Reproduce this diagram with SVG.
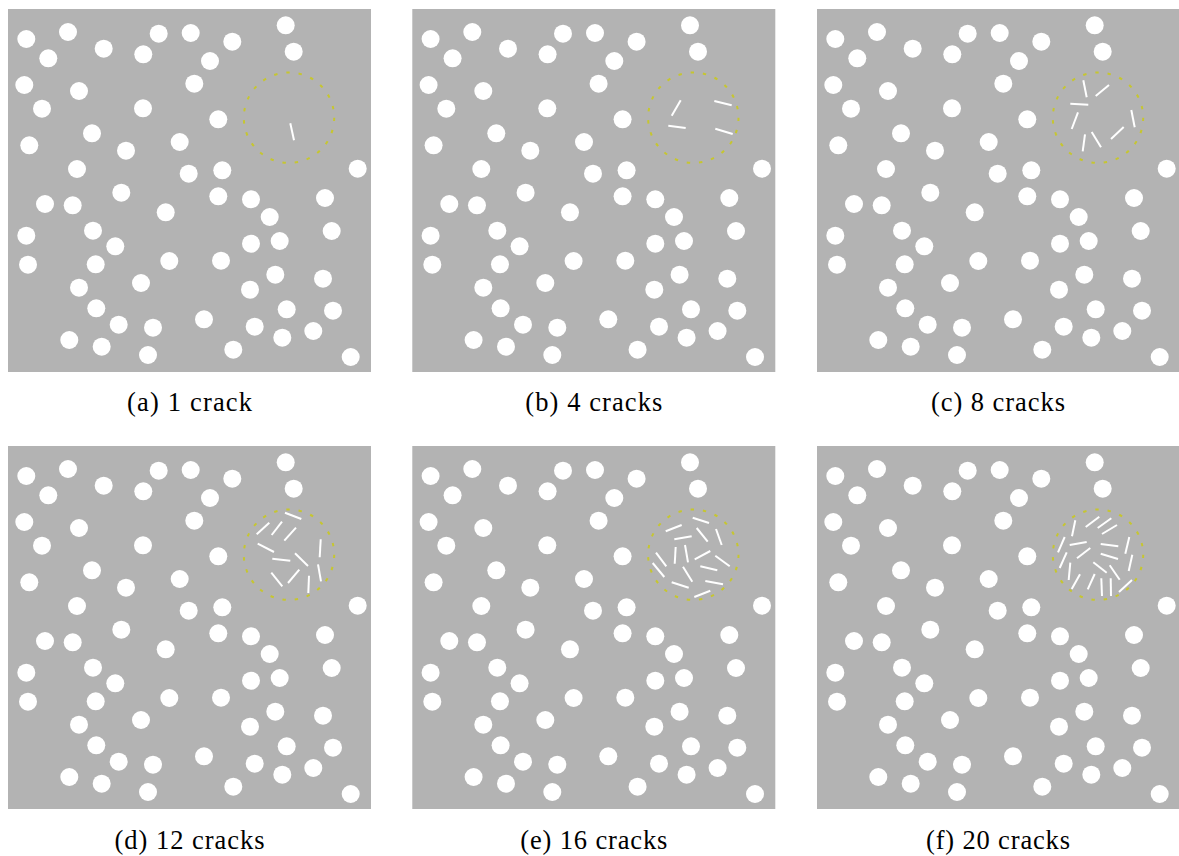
<svg xmlns="http://www.w3.org/2000/svg" xmlns:xlink="http://www.w3.org/1999/xlink" width="1179" height="856" viewBox="0 0 1179 856">
<style>
.bg{fill:#b3b3b3}
.p{fill:#ffffff}
.ring{fill:none;stroke:#c6c630;stroke-width:2;stroke-dasharray:3.4 8.95}
.crack{stroke:#ffffff;stroke-width:2;fill:none}
.cap{font-family:"Liberation Serif","DejaVu Serif",serif;font-size:26.5px;fill:#000;text-anchor:middle}
</style>
<defs>
<g id="particles">
<circle class="p" cx="26.3" cy="39" r="9"/>
<circle class="p" cx="68" cy="32" r="9"/>
<circle class="p" cx="48.3" cy="58.3" r="9"/>
<circle class="p" cx="103.7" cy="48.7" r="9"/>
<circle class="p" cx="158.7" cy="33.7" r="9"/>
<circle class="p" cx="190.7" cy="33" r="9"/>
<circle class="p" cx="143.3" cy="54.3" r="9"/>
<circle class="p" cx="232.3" cy="41.7" r="9"/>
<circle class="p" cx="285.7" cy="25.3" r="9"/>
<circle class="p" cx="293.7" cy="51.7" r="9"/>
<circle class="p" cx="210" cy="61" r="9"/>
<circle class="p" cx="24.3" cy="85" r="9"/>
<circle class="p" cx="79" cy="91" r="9"/>
<circle class="p" cx="194.3" cy="83.7" r="9"/>
<circle class="p" cx="42" cy="108.7" r="9"/>
<circle class="p" cx="143" cy="108.3" r="9"/>
<circle class="p" cx="218.3" cy="119.3" r="9"/>
<circle class="p" cx="92" cy="133.3" r="9"/>
<circle class="p" cx="29.3" cy="145.3" r="9"/>
<circle class="p" cx="179.7" cy="142" r="9"/>
<circle class="p" cx="126" cy="150.7" r="9"/>
<circle class="p" cx="77" cy="169" r="9"/>
<circle class="p" cx="188.7" cy="173.7" r="9"/>
<circle class="p" cx="222.3" cy="170.3" r="9"/>
<circle class="p" cx="357.7" cy="168.7" r="9"/>
<circle class="p" cx="121.3" cy="192.7" r="9"/>
<circle class="p" cx="45" cy="204" r="9"/>
<circle class="p" cx="72.7" cy="205.3" r="9"/>
<circle class="p" cx="218.3" cy="196.3" r="9"/>
<circle class="p" cx="251" cy="199.3" r="9"/>
<circle class="p" cx="325" cy="198" r="9"/>
<circle class="p" cx="165.7" cy="212.3" r="9"/>
<circle class="p" cx="269.7" cy="217" r="9"/>
<circle class="p" cx="26.3" cy="235.7" r="9"/>
<circle class="p" cx="93" cy="230.7" r="9"/>
<circle class="p" cx="115.3" cy="246.3" r="9"/>
<circle class="p" cx="251" cy="243.7" r="9"/>
<circle class="p" cx="279.7" cy="241" r="9"/>
<circle class="p" cx="331.7" cy="231" r="9"/>
<circle class="p" cx="28" cy="264.7" r="9"/>
<circle class="p" cx="95.7" cy="264.3" r="9"/>
<circle class="p" cx="169.3" cy="261" r="9"/>
<circle class="p" cx="221" cy="260.7" r="9"/>
<circle class="p" cx="275.3" cy="274.7" r="9"/>
<circle class="p" cx="141" cy="283" r="9"/>
<circle class="p" cx="323" cy="278.7" r="9"/>
<circle class="p" cx="79" cy="287.7" r="9"/>
<circle class="p" cx="250" cy="289.7" r="9"/>
<circle class="p" cx="96.3" cy="308.3" r="9"/>
<circle class="p" cx="286.7" cy="309.3" r="9"/>
<circle class="p" cx="333" cy="310.7" r="9"/>
<circle class="p" cx="118.7" cy="324.7" r="9"/>
<circle class="p" cx="153" cy="327.7" r="9"/>
<circle class="p" cx="204" cy="319.3" r="9"/>
<circle class="p" cx="254.7" cy="326.7" r="9"/>
<circle class="p" cx="313.3" cy="331" r="9"/>
<circle class="p" cx="282.3" cy="337.7" r="9"/>
<circle class="p" cx="69.3" cy="340" r="9"/>
<circle class="p" cx="101.7" cy="346.7" r="9"/>
<circle class="p" cx="233.3" cy="349.7" r="9"/>
<circle class="p" cx="148" cy="355" r="9"/>
<circle class="p" cx="350.7" cy="357" r="9"/>
</g>
<g id="panel">
<rect class="bg" x="8" y="9" width="363" height="363"/>
<use xlink:href="#particles" href="#particles"/>
<circle class="ring" cx="289" cy="117.7" r="45.2"/>
</g>
</defs>

<g id="panel-a">
<use xlink:href="#panel" href="#panel"/>
<line class="crack" x1="290.3" y1="123.3" x2="294" y2="140.3"/>
<text class="cap" x="189.5" y="410.5" textLength="125" lengthAdjust="spacing">(a) 1 crack</text>
</g>

<g id="panel-b">
<use xlink:href="#panel" href="#panel" transform="translate(404.3,0)"/>
<line class="crack" x1="671.7" y1="115.7" x2="680.7" y2="100.3"/>
<line class="crack" x1="668.3" y1="125.7" x2="685.7" y2="128"/>
<line class="crack" x1="714.3" y1="101" x2="731.7" y2="105.3"/>
<line class="crack" x1="715.3" y1="128.7" x2="732.7" y2="134"/>
<text class="cap" x="593.8" y="410.5" textLength="137" lengthAdjust="spacing">(b) 4 cracks</text>
</g>

<g id="panel-c">
<use xlink:href="#panel" href="#panel" transform="translate(809,0)"/>
<line class="crack" x1="1083.3" y1="80.3" x2="1086.7" y2="97.3"/>
<line class="crack" x1="1095.7" y1="96" x2="1109" y2="85"/>
<line class="crack" x1="1070.3" y1="103.7" x2="1088.3" y2="104.7"/>
<line class="crack" x1="1078" y1="112.3" x2="1071.7" y2="129"/>
<line class="crack" x1="1131.3" y1="110" x2="1134.7" y2="127.3"/>
<line class="crack" x1="1111" y1="139" x2="1123.7" y2="127"/>
<line class="crack" x1="1091.7" y1="132" x2="1101" y2="147.3"/>
<line class="crack" x1="1085" y1="134.3" x2="1082.7" y2="151.3"/>
<text class="cap" x="998" y="410.5" textLength="134" lengthAdjust="spacing">(c) 8 cracks</text>
</g>

<g id="panel-d">
<use xlink:href="#panel" href="#panel" transform="translate(0,437)"/>
<line class="crack" x1="285" y1="512.7" x2="301.3" y2="519"/>
<line class="crack" x1="256.7" y1="534.3" x2="269.3" y2="522.7"/>
<line class="crack" x1="271.7" y1="535" x2="282" y2="521.7"/>
<line class="crack" x1="284.3" y1="540.7" x2="296" y2="527.7"/>
<line class="crack" x1="257.7" y1="543.7" x2="274" y2="552"/>
<line class="crack" x1="272.3" y1="558.7" x2="290.3" y2="560.7"/>
<line class="crack" x1="295" y1="553.3" x2="308" y2="566"/>
<line class="crack" x1="320.7" y1="539.3" x2="319.7" y2="557.3"/>
<line class="crack" x1="318" y1="564.3" x2="321" y2="581.3"/>
<line class="crack" x1="271.3" y1="572.7" x2="282.3" y2="586.3"/>
<line class="crack" x1="288" y1="583" x2="299.3" y2="569.7"/>
<line class="crack" x1="309" y1="575.7" x2="308.3" y2="593"/>
<text class="cap" x="189.5" y="849" textLength="150" lengthAdjust="spacing">(d) 12 cracks</text>
</g>

<g id="panel-e">
<use xlink:href="#panel" href="#panel" transform="translate(404.3,437)"/>
<line class="crack" x1="692.7" y1="517.7" x2="709" y2="523"/>
<line class="crack" x1="665.7" y1="531.3" x2="681.7" y2="525"/>
<line class="crack" x1="674.3" y1="539.3" x2="691.7" y2="536.3"/>
<line class="crack" x1="696.7" y1="528" x2="707.7" y2="541.7"/>
<line class="crack" x1="716" y1="529" x2="721.7" y2="545"/>
<line class="crack" x1="675.7" y1="547" x2="674.7" y2="563.7"/>
<line class="crack" x1="685" y1="545" x2="688" y2="562.3"/>
<line class="crack" x1="656" y1="552.7" x2="666.3" y2="566.3"/>
<line class="crack" x1="652.7" y1="563" x2="664.3" y2="577"/>
<line class="crack" x1="694.7" y1="559.3" x2="710.3" y2="551"/>
<line class="crack" x1="715.3" y1="555.7" x2="729.7" y2="566.3"/>
<line class="crack" x1="700.3" y1="566.3" x2="717.3" y2="570.3"/>
<line class="crack" x1="683" y1="566.7" x2="692.3" y2="581.7"/>
<line class="crack" x1="671.7" y1="582.3" x2="688.7" y2="587.7"/>
<line class="crack" x1="705.3" y1="581" x2="723" y2="584.3"/>
<line class="crack" x1="694.3" y1="597" x2="710.3" y2="590.7"/>
<text class="cap" x="593.8" y="849" textLength="147" lengthAdjust="spacing">(e) 16 cracks</text>
</g>

<g id="panel-f">
<use xlink:href="#panel" href="#panel" transform="translate(809,437)"/>
<line class="crack" x1="1075.3" y1="520.3" x2="1072" y2="536.3"/>
<line class="crack" x1="1085.7" y1="527" x2="1099.3" y2="516.7"/>
<line class="crack" x1="1097.7" y1="528" x2="1111.3" y2="518.3"/>
<line class="crack" x1="1102" y1="534" x2="1117" y2="525"/>
<line class="crack" x1="1064.7" y1="537" x2="1058" y2="552.3"/>
<line class="crack" x1="1069.7" y1="545" x2="1086.7" y2="542"/>
<line class="crack" x1="1100.7" y1="544" x2="1118.3" y2="546.3"/>
<line class="crack" x1="1129.3" y1="537" x2="1125.3" y2="553.7"/>
<line class="crack" x1="1077" y1="558.3" x2="1090.3" y2="548"/>
<line class="crack" x1="1100.7" y1="553.7" x2="1118" y2="559"/>
<line class="crack" x1="1066.7" y1="552.3" x2="1059.7" y2="568"/>
<line class="crack" x1="1132.3" y1="554.7" x2="1128.7" y2="571"/>
<line class="crack" x1="1093.3" y1="562.3" x2="1106.7" y2="572.7"/>
<line class="crack" x1="1109.7" y1="565.3" x2="1119.7" y2="579.7"/>
<line class="crack" x1="1070.3" y1="562.7" x2="1068.7" y2="580"/>
<line class="crack" x1="1080" y1="574.3" x2="1071.7" y2="589"/>
<line class="crack" x1="1094.7" y1="574" x2="1087.7" y2="589.3"/>
<line class="crack" x1="1101.3" y1="578.3" x2="1102" y2="596"/>
<line class="crack" x1="1110.7" y1="578.3" x2="1111" y2="596"/>
<line class="crack" x1="1119" y1="592" x2="1132" y2="580"/>
<text class="cap" x="998" y="849" textLength="144" lengthAdjust="spacing">(f) 20 cracks</text>
</g>
</svg>
